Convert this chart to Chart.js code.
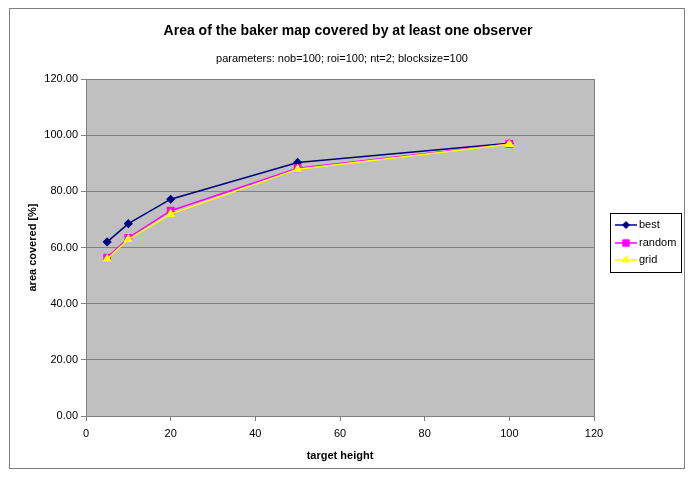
<!DOCTYPE html>
<html>
<head>
<meta charset="utf-8">
<script src="https://cdn.jsdelivr.net/npm/chart.js@4.4.0/dist/chart.umd.min.js"></script>
<style>
  html, body { margin: 0; padding: 0; background: #ffffff; }
  canvas { display: block; }
</style>
</head>
<body>
<canvas id="bakerChart" width="694" height="478"></canvas>
<script>
// data
const targetHeights = [5, 10, 20, 50, 100];
const bestValues = [62.0, 68.5, 77.2, 90.3, 97.1];
const randomValues = [56.4, 63.4, 73.1, 88.2, 96.9];
const gridValues = [55.9, 62.9, 71.9, 87.9, 96.8];
const seriesNames = ["best", "random", "grid"];

const chartTitle = "Area of the baker map covered by at least one observer";
const chartSubtitle = "parameters: nob=100; roi=100; nt=2; blocksize=100";

const FONT = "'Liberation Sans', Arial, sans-serif";

const seriesStyles = [
    { color: "#000080", point: "rectRot", radius: 3.5 },
    { color: "#FF00FF", point: "rect", radius: 4.5 },
    { color: "#FFFF00", point: "triangle", radius: 4 },
];

function toPoints(values) {
    return targetHeights.map((x, i) => ({ x: x, y: values[i] }));
}

// Excel-like frame, grey plot area, titles and boxed legend
const excelLook = {
    id: "excelLook",
    beforeDraw(chart) {
        const { ctx, chartArea: a } = chart;
        ctx.save();
        ctx.fillStyle = "#ffffff";
        ctx.fillRect(0, 0, chart.width, chart.height);
        ctx.fillStyle = "#C0C0C0";
        ctx.fillRect(a.left, a.top, a.right - a.left, a.bottom - a.top);
        ctx.restore();
    },
    beforeDatasetsDraw(chart) {
        const { ctx, chartArea: a } = chart;
        ctx.save();
        ctx.strokeStyle = "#808080";
        ctx.lineWidth = 1;
        ctx.strokeRect(Math.round(a.left) + 0.5, Math.round(a.top) + 0.5,
            Math.round(a.right - a.left), Math.round(a.bottom - a.top));
        ctx.restore();
    },
    afterDraw(chart) {
        const ctx = chart.ctx;
        ctx.save();
        // outer border
        ctx.strokeStyle = "#808080";
        ctx.lineWidth = 1;
        ctx.strokeRect(9.5, 8.5, 675, 460);

        // titles
        ctx.fillStyle = "#000000";
        ctx.textAlign = "center";
        ctx.textBaseline = "middle";
        ctx.font = "bold 14px " + FONT;
        ctx.fillText(chartTitle, 348, 31);
        ctx.font = "11px " + FONT;
        ctx.fillText(chartSubtitle, 342, 59);

        // legend
        ctx.strokeStyle = "#000000";
        ctx.fillStyle = "#ffffff";
        ctx.fillRect(610.5, 213.5, 71, 59);
        ctx.strokeRect(610.5, 213.5, 71, 59);
        const rows = [225, 243, 260];
        chart.data.datasets.forEach((ds, i) => {
            const y = rows[i];
            ctx.strokeStyle = ds.borderColor;
            ctx.lineWidth = 1.5;
            ctx.beginPath();
            ctx.moveTo(615, y);
            ctx.lineTo(637, y);
            ctx.stroke();
            ctx.fillStyle = ds.borderColor;
            ctx.strokeStyle = ds.borderColor;
            ctx.lineWidth = 1;
            Chart.helpers.drawPoint(ctx, {
                pointStyle: ds.pointStyle,
                radius: ds.pointRadius,
                rotation: 0,
                borderWidth: 1,
            }, 626, y);
            ctx.fillStyle = "#000000";
            ctx.textAlign = "left";
            ctx.font = "11px " + FONT;
            ctx.fillText(ds.label, 639, y);
        });
        ctx.restore();
    },
};

const datasets = [bestValues, randomValues, gridValues].map((values, i) => ({
    label: seriesNames[i],
    data: toPoints(values),
    borderColor: seriesStyles[i].color,
    backgroundColor: seriesStyles[i].color,
    pointBackgroundColor: seriesStyles[i].color,
    pointBorderColor: seriesStyles[i].color,
    pointStyle: seriesStyles[i].point,
    pointRadius: seriesStyles[i].radius,
    borderWidth: 1.5,
    showLine: true,
    tension: 0,
    order: 3 - i, // grid drawn on top, like the reference
}));

const ctx = document.getElementById("bakerChart").getContext("2d");
new Chart(ctx, {
    type: "scatter",
    data: { datasets: datasets },
    options: {
        responsive: false,
        maintainAspectRatio: false,
        animation: false,
        devicePixelRatio: 1,
        layout: { padding: { top: 79, right: 100, left: 0, bottom: 0 } },
        plugins: {
            legend: { display: false },
            tooltip: { enabled: false },
            title: { display: false },
        },
        scales: {
            x: {
                type: "linear",
                min: 0,
                max: 120,
                afterFit: (scale) => { scale.height = 62; },
                grid: {
                    drawOnChartArea: false,
                    drawTicks: true,
                    tickLength: 5,
                    color: "#808080",
                },
                border: { display: true, color: "#808080" },
                ticks: {
                    stepSize: 20,
                    padding: 6,
                    maxRotation: 0,
                    color: "#000000",
                    font: { family: FONT, size: 11 },
                },
                title: {
                    display: true,
                    text: "target height",
                    color: "#000000",
                    font: { family: FONT, size: 11, weight: "bold" },
                    padding: { top: 0, bottom: 15 },
                },
            },
            y: {
                min: 0,
                max: 120,
                afterFit: (scale) => { scale.width = 86; },
                grid: {
                    drawOnChartArea: true,
                    drawTicks: true,
                    tickLength: 5,
                    color: "#808080",
                },
                border: { display: true, color: "#808080" },
                ticks: {
                    stepSize: 20,
                    padding: 3,
                    color: "#000000",
                    font: { family: FONT, size: 11 },
                    callback: (v) => Number(v).toFixed(2),
                },
                title: {
                    display: true,
                    text: "area covered [%]",
                    color: "#000000",
                    font: { family: FONT, size: 11, weight: "bold" },
                    padding: { top: 26, bottom: 0 },
                },
            },
        },
    },
    plugins: [excelLook],
});
</script>
</body>
</html>
